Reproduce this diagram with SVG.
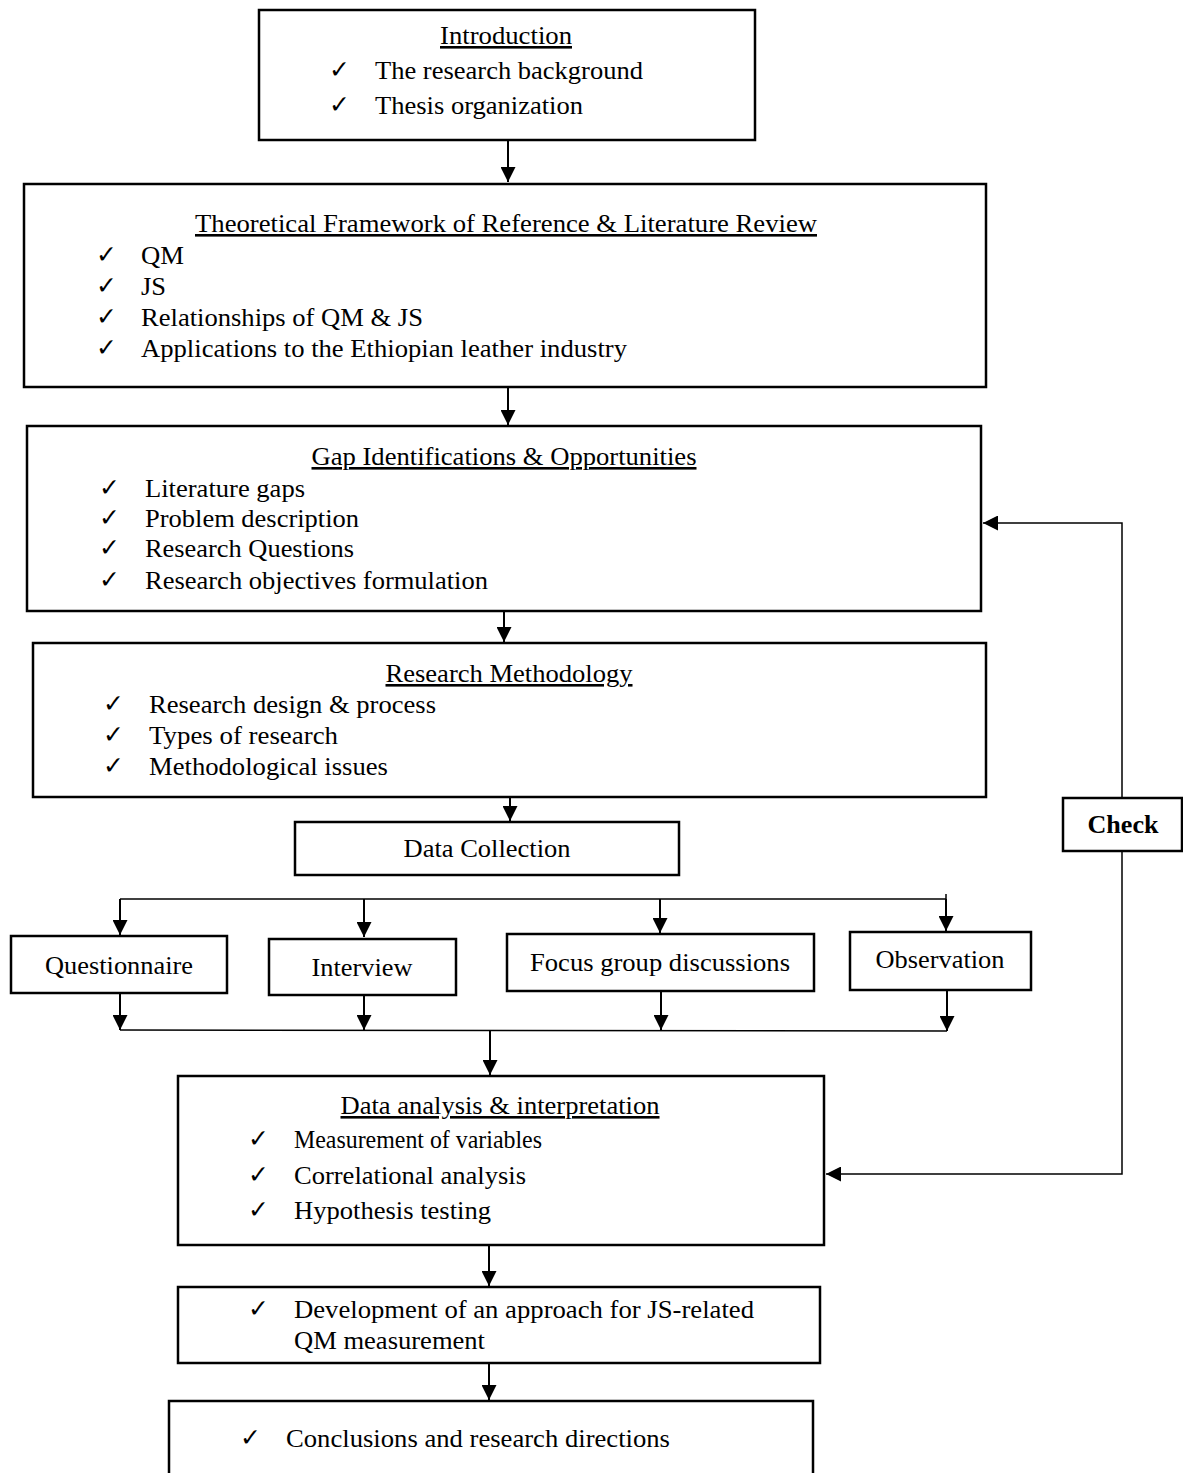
<svg xmlns="http://www.w3.org/2000/svg" width="1183" height="1473" viewBox="0 0 1183 1473">
<style>
.box{fill:#fff;stroke:#000;stroke-width:2.5}
.t{font-family:"Liberation Serif","Times New Roman",serif;font-size:26px;fill:#000}
.h{text-decoration:underline}
.c{font-family:"DejaVu Sans",sans-serif;font-size:25px;fill:#000}
.b{font-weight:bold}
.ln{fill:none;stroke:#000;stroke-width:2}
.thin{fill:none;stroke:#000;stroke-width:1.5}
</style>
<defs>
<marker id="ah" viewBox="0 0 10 10" refX="10" refY="5" markerWidth="15" markerHeight="15" markerUnits="userSpaceOnUse" orient="auto">
<path d="M0,0 L10,5 L0,10 z" fill="#000"/>
</marker>
</defs>
<rect width="1183" height="1473" fill="#fff"/>

<g id="connectors">
<line class="ln" x1="508" y1="141" x2="508" y2="182" marker-end="url(#ah)"/>
<line class="ln" x1="508" y1="387" x2="508" y2="425" marker-end="url(#ah)"/>
<line class="ln" x1="504" y1="611" x2="504" y2="642" marker-end="url(#ah)"/>
<line class="ln" x1="510" y1="797" x2="510" y2="821" marker-end="url(#ah)"/>
<polyline class="thin" points="120,899 946,899"/>
<line class="thin" x1="946" y1="894" x2="946" y2="899"/>
<line class="ln" x1="120" y1="899" x2="120" y2="935" marker-end="url(#ah)"/>
<line class="ln" x1="364" y1="899" x2="364" y2="937" marker-end="url(#ah)"/>
<line class="ln" x1="660" y1="899" x2="660" y2="933" marker-end="url(#ah)"/>
<line class="ln" x1="946" y1="899" x2="946" y2="931" marker-end="url(#ah)"/>
<line class="ln" x1="120" y1="993" x2="120" y2="1030" marker-end="url(#ah)"/>
<line class="ln" x1="364" y1="995" x2="364" y2="1030" marker-end="url(#ah)"/>
<line class="ln" x1="661" y1="991" x2="661" y2="1030" marker-end="url(#ah)"/>
<line class="ln" x1="947" y1="990" x2="947" y2="1031" marker-end="url(#ah)"/>
<polyline class="thin" points="120,1030 947,1031"/>
<line class="ln" x1="490" y1="1030" x2="490" y2="1075" marker-end="url(#ah)"/>
<line class="ln" x1="489" y1="1245" x2="489" y2="1286" marker-end="url(#ah)"/>
<line class="ln" x1="489" y1="1363" x2="489" y2="1400" marker-end="url(#ah)"/>
<polyline class="thin" points="1122,798 1122,523 983,523" marker-end="url(#ah)"/>
<polyline class="thin" points="1122,851 1122,1174 826,1174" marker-end="url(#ah)"/>
</g>

<g id="introduction">
<rect class="box" x="259" y="10" width="496" height="130"/>
<text class="t h" x="506" y="44" text-anchor="middle" textLength="132" lengthAdjust="spacingAndGlyphs">Introduction</text>
<text class="c" x="329" y="78">✓</text>
<text class="t" x="375" y="79" textLength="268" lengthAdjust="spacingAndGlyphs">The research background</text>
<text class="c" x="329" y="113">✓</text>
<text class="t" x="375" y="114" textLength="208" lengthAdjust="spacingAndGlyphs">Thesis organization</text>
</g>

<g id="theoretical">
<rect class="box" x="24" y="184" width="962" height="203"/>
<text class="t h" x="506" y="232" text-anchor="middle" textLength="622" lengthAdjust="spacingAndGlyphs">Theoretical Framework of Reference &amp; Literature Review</text>
<text class="c" x="96" y="263">✓</text>
<text class="t" x="141" y="264" textLength="43" lengthAdjust="spacingAndGlyphs">QM</text>
<text class="c" x="96" y="294">✓</text>
<text class="t" x="141" y="295" textLength="25" lengthAdjust="spacingAndGlyphs">JS</text>
<text class="c" x="96" y="325">✓</text>
<text class="t" x="141" y="326" textLength="282" lengthAdjust="spacingAndGlyphs">Relationships of QM &amp; JS</text>
<text class="c" x="96" y="356">✓</text>
<text class="t" x="141" y="357" textLength="486" lengthAdjust="spacingAndGlyphs">Applications to the Ethiopian leather industry</text>
</g>

<g id="gap">
<rect class="box" x="27" y="426" width="954" height="185"/>
<text class="t h" x="504" y="465" text-anchor="middle" textLength="385" lengthAdjust="spacingAndGlyphs">Gap Identifications &amp; Opportunities</text>
<text class="c" x="99" y="496">✓</text>
<text class="t" x="145" y="497" textLength="160" lengthAdjust="spacingAndGlyphs">Literature gaps</text>
<text class="c" x="99" y="526">✓</text>
<text class="t" x="145" y="527" textLength="214" lengthAdjust="spacingAndGlyphs">Problem description</text>
<text class="c" x="99" y="556">✓</text>
<text class="t" x="145" y="557" textLength="209" lengthAdjust="spacingAndGlyphs">Research Questions</text>
<text class="c" x="99" y="588">✓</text>
<text class="t" x="145" y="589" textLength="343" lengthAdjust="spacingAndGlyphs">Research objectives formulation</text>
</g>

<g id="methodology">
<rect class="box" x="33" y="643" width="953" height="154"/>
<text class="t h" x="509" y="682" text-anchor="middle" textLength="247" lengthAdjust="spacingAndGlyphs">Research Methodology</text>
<text class="c" x="103" y="712">✓</text>
<text class="t" x="149" y="713" textLength="287" lengthAdjust="spacingAndGlyphs">Research design &amp; process</text>
<text class="c" x="103" y="743">✓</text>
<text class="t" x="149" y="744" textLength="189" lengthAdjust="spacingAndGlyphs">Types of research</text>
<text class="c" x="103" y="774">✓</text>
<text class="t" x="149" y="775" textLength="239" lengthAdjust="spacingAndGlyphs">Methodological issues</text>
</g>

<g id="data-collection">
<rect class="box" x="295" y="822" width="384" height="53"/>
<text class="t" x="487" y="857" text-anchor="middle" textLength="167" lengthAdjust="spacingAndGlyphs">Data Collection</text>
</g>

<g id="questionnaire">
<rect class="box" x="11" y="936" width="216" height="57"/>
<text class="t" x="119" y="974" text-anchor="middle" textLength="148" lengthAdjust="spacingAndGlyphs">Questionnaire</text>
</g>

<g id="interview">
<rect class="box" x="269" y="939" width="187" height="56"/>
<text class="t" x="362" y="976" text-anchor="middle" textLength="101" lengthAdjust="spacingAndGlyphs">Interview</text>
</g>

<g id="focus-group">
<rect class="box" x="507" y="934" width="307" height="57"/>
<text class="t" x="660" y="971" text-anchor="middle" textLength="260" lengthAdjust="spacingAndGlyphs">Focus group discussions</text>
</g>

<g id="observation">
<rect class="box" x="850" y="932" width="181" height="58"/>
<text class="t" x="940" y="968" text-anchor="middle" textLength="129" lengthAdjust="spacingAndGlyphs">Observation</text>
</g>

<g id="check">
<rect class="box" x="1063" y="798" width="119" height="53"/>
<text class="t b" x="1123" y="833" text-anchor="middle" textLength="71" lengthAdjust="spacingAndGlyphs">Check</text>
</g>

<g id="data-analysis">
<rect class="box" x="178" y="1076" width="646" height="169"/>
<text class="t h" x="500" y="1114" text-anchor="middle" textLength="319" lengthAdjust="spacingAndGlyphs">Data analysis &amp; interpretation</text>
<text class="c" x="248" y="1147">✓</text>
<text class="t" x="294" y="1148" textLength="248" lengthAdjust="spacingAndGlyphs">Measurement of variables</text>
<text class="c" x="248" y="1183">✓</text>
<text class="t" x="294" y="1184" textLength="232" lengthAdjust="spacingAndGlyphs">Correlational analysis</text>
<text class="c" x="248" y="1218">✓</text>
<text class="t" x="294" y="1219" textLength="197" lengthAdjust="spacingAndGlyphs">Hypothesis testing</text>
</g>

<g id="development">
<rect class="box" x="178" y="1287" width="642" height="76"/>
<text class="c" x="248" y="1317">✓</text>
<text class="t" x="294" y="1318" textLength="460" lengthAdjust="spacingAndGlyphs">Development of an approach for JS-related</text>
<text class="t" x="294" y="1349" textLength="191" lengthAdjust="spacingAndGlyphs">QM measurement</text>
</g>

<g id="conclusions">
<rect class="box" x="169" y="1401" width="644" height="90"/>
<text class="c" x="240" y="1446">✓</text>
<text class="t" x="286" y="1447" textLength="384" lengthAdjust="spacingAndGlyphs">Conclusions and research directions</text>
</g>
</svg>
